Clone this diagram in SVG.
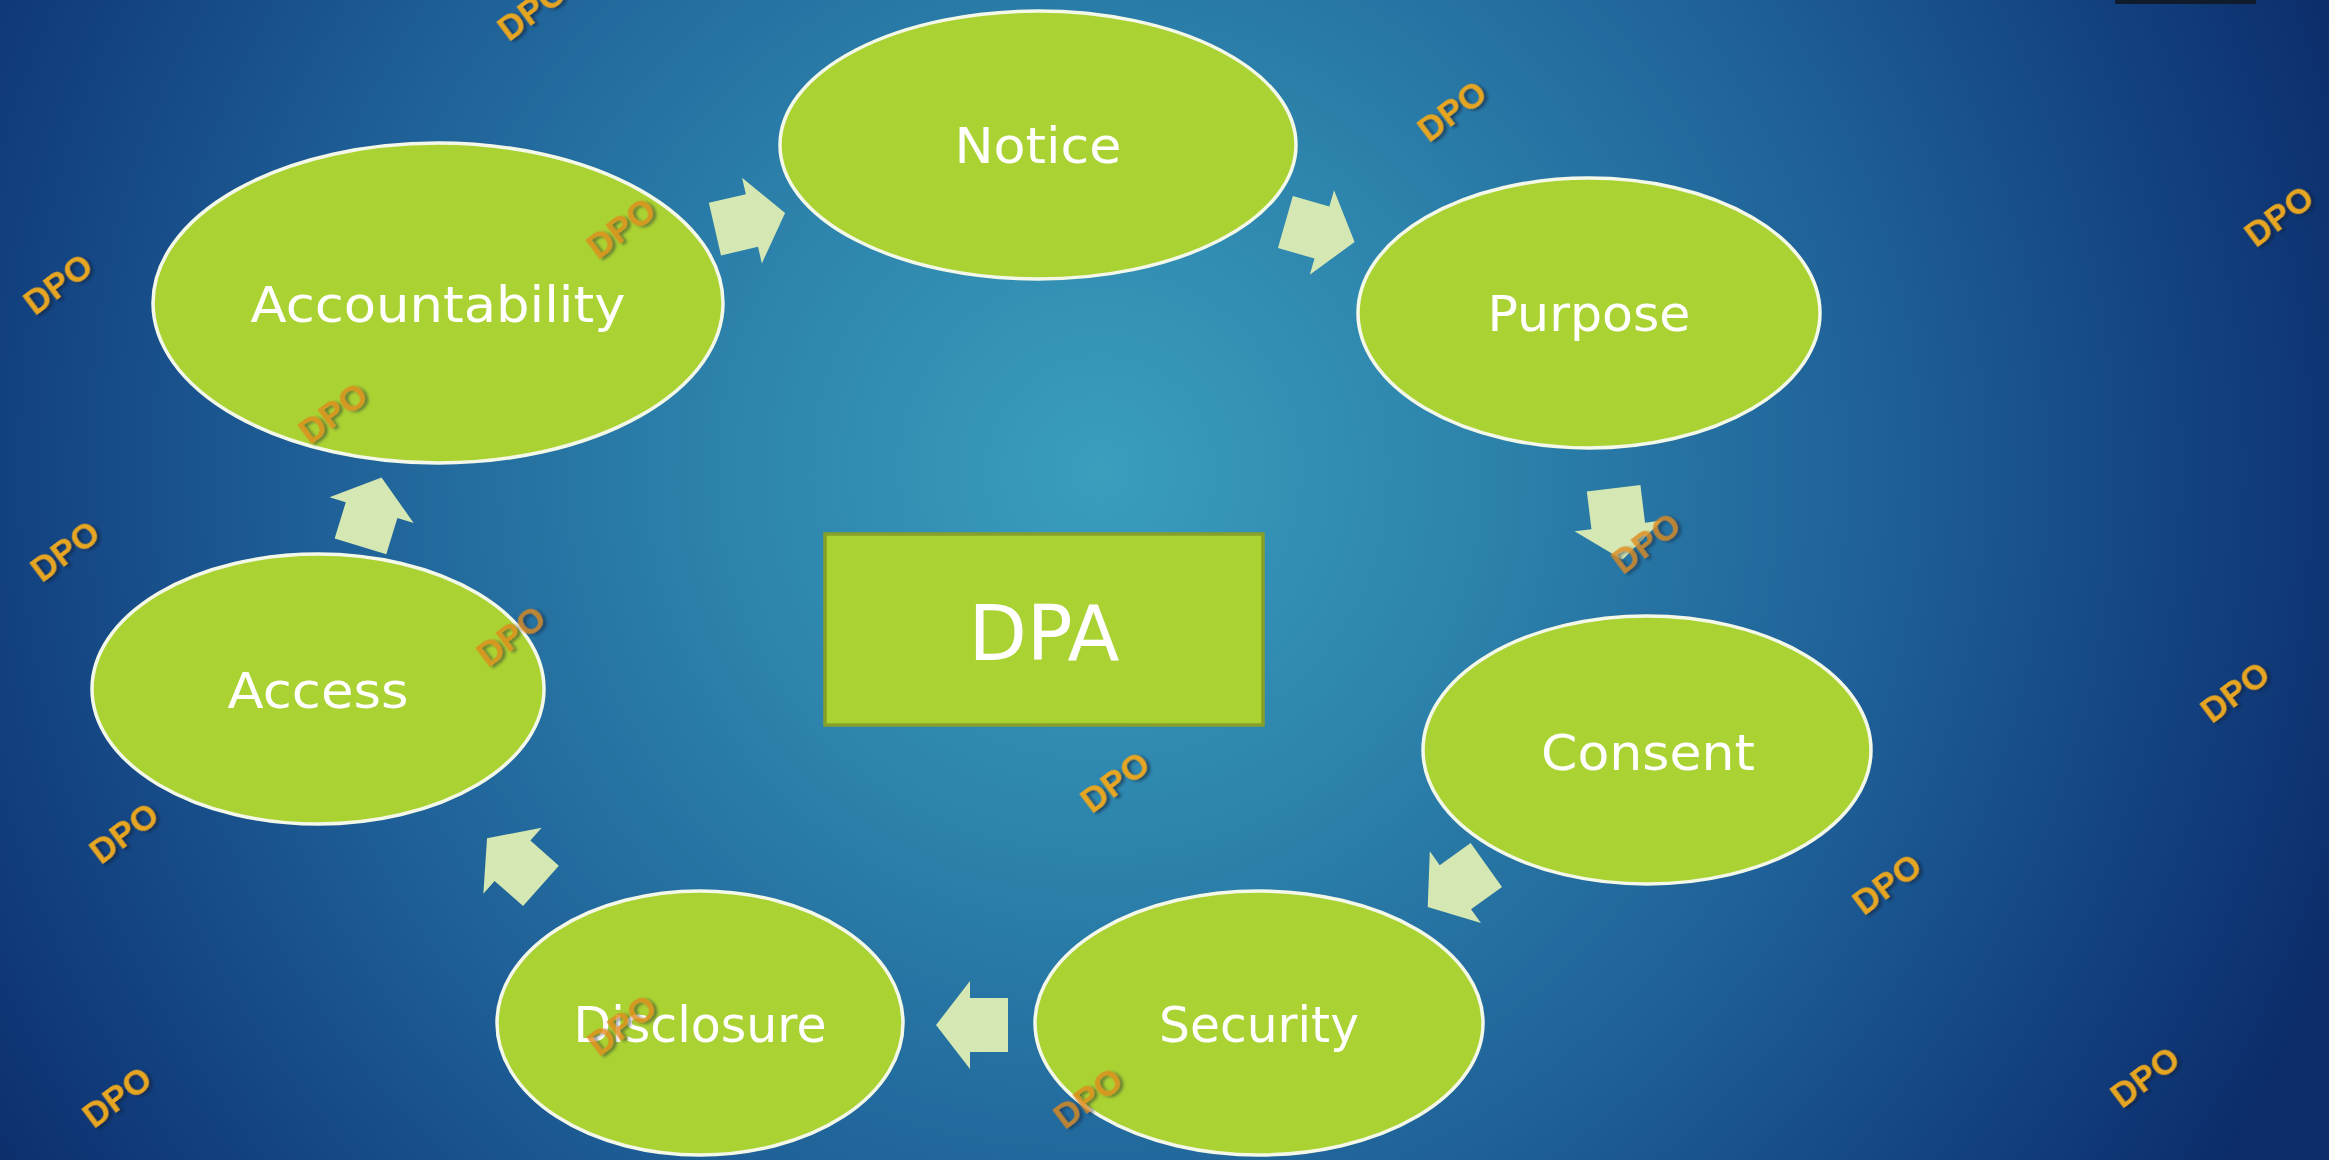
<svg xmlns="http://www.w3.org/2000/svg" xmlns:xlink="http://www.w3.org/1999/xlink" width="2329" height="1160" viewBox="0 0 2329 1160">
<style>
.node ellipse{fill:#abd233;stroke:#f4f8e8;stroke-width:3.5}
.lbl{font-family:"DejaVu Sans","Liberation Sans",sans-serif;font-size:50px;fill:#ffffff;text-anchor:middle}
.arrow{fill:#d5e7b3}
.wm{font-family:"Liberation Sans",Arial,sans-serif;font-weight:bold;font-size:35px;fill:#e6a622;text-anchor:middle;filter:url(#sh)}
.wm.on{fill:#e08a1c;opacity:0.8}
</style>
<defs>
<radialGradient id="bg" gradientUnits="userSpaceOnUse" cx="1100" cy="470" r="1320">
<stop offset="0" stop-color="#3a9ebd"/>
<stop offset="0.3" stop-color="#2c82ab"/>
<stop offset="0.6" stop-color="#1e5f97"/>
<stop offset="0.85" stop-color="#123f7e"/>
<stop offset="1" stop-color="#0c2d6a"/>
</radialGradient>
<filter id="sh" x="-30%" y="-30%" width="160%" height="160%">
<feDropShadow dx="2" dy="3" stdDeviation="1.5" flood-color="#0b1a30" flood-opacity="0.6"/>
</filter>
<polygon id="arr" points="-36,-27 2,-27 2,-44 36,0 2,44 2,27 -36,27"/>
</defs>
<rect x="0" y="0" width="2329" height="1160" fill="url(#bg)"/>
<rect x="2115" y="0" width="141" height="4" fill="#101c2c"/>

<g id="connectors" class="arrow">
<use xlink:href="#arr" href="#arr" transform="translate(750,221) rotate(-13)"/>
<use xlink:href="#arr" href="#arr" transform="translate(1320,232) rotate(16)"/>
<use xlink:href="#arr" href="#arr" transform="translate(1618,524) rotate(83)"/>
<use xlink:href="#arr" href="#arr" transform="translate(1457,886) rotate(144.5)"/>
<use xlink:href="#arr" href="#arr" transform="translate(972,1025) rotate(180)"/>
<use xlink:href="#arr" href="#arr" transform="translate(514,862) rotate(-138.5)"/>
<use xlink:href="#arr" href="#arr" transform="translate(371,512) rotate(-73)"/>
</g>

<g id="node-notice" class="node">
<ellipse cx="1038" cy="145" rx="258" ry="134"/>
<text class="lbl" x="1038" y="163" textLength="167" lengthAdjust="spacingAndGlyphs">Notice</text>
</g>
<g id="node-purpose" class="node">
<ellipse cx="1589" cy="313" rx="231" ry="135"/>
<text class="lbl" x="1589" y="331" textLength="203" lengthAdjust="spacingAndGlyphs">Purpose</text>
</g>
<g id="node-consent" class="node">
<ellipse cx="1647" cy="750" rx="224" ry="134"/>
<text class="lbl" x="1648" y="770" textLength="214" lengthAdjust="spacingAndGlyphs">Consent</text>
</g>
<g id="node-security" class="node">
<ellipse cx="1259" cy="1023" rx="224" ry="132"/>
<text class="lbl" x="1259" y="1042" textLength="200" lengthAdjust="spacingAndGlyphs">Security</text>
</g>
<g id="node-disclosure" class="node">
<ellipse cx="700" cy="1023" rx="203" ry="132"/>
<text class="lbl" x="700" y="1042" textLength="253" lengthAdjust="spacingAndGlyphs">Disclosure</text>
</g>
<g id="node-access" class="node">
<ellipse cx="318" cy="689" rx="226" ry="135"/>
<text class="lbl" x="318" y="708" textLength="181" lengthAdjust="spacingAndGlyphs">Access</text>
</g>
<g id="node-accountability" class="node">
<ellipse cx="438" cy="303" rx="285" ry="160"/>
<text class="lbl" x="438" y="322" textLength="375" lengthAdjust="spacingAndGlyphs">Accountability</text>
</g>
<g id="node-dpa">
<rect x="825" y="534" width="438" height="191" fill="#abd233" stroke="#86a02a" stroke-width="3.5"/>
<text x="1044" y="660" font-family="DejaVu Sans, Liberation Sans, sans-serif" font-size="76" fill="#ffffff" text-anchor="middle" textLength="151">DPA</text>
</g>

<g id="watermarks">
<text class="wm" transform="translate(532,10) rotate(-37)" dy="12">DPO</text>
<text class="wm" transform="translate(1452,111) rotate(-37)" dy="12">DPO</text>
<text class="wm" transform="translate(2279,216) rotate(-37)" dy="12">DPO</text>
<text class="wm" transform="translate(58,284) rotate(-37)" dy="12">DPO</text>
<text class="wm on" transform="translate(621,228) rotate(-37)" dy="12">DPO</text>
<text class="wm on" transform="translate(333,413) rotate(-37)" dy="12">DPO</text>
<text class="wm" transform="translate(65,551) rotate(-37)" dy="12">DPO</text>
<text class="wm on" transform="translate(511,636) rotate(-37)" dy="12">DPO</text>
<text class="wm on" transform="translate(1646,543) rotate(-37)" dy="12">DPO</text>
<text class="wm" transform="translate(1115,782) rotate(-37)" dy="12">DPO</text>
<text class="wm" transform="translate(2235,692) rotate(-37)" dy="12">DPO</text>
<text class="wm" transform="translate(124,833) rotate(-37)" dy="12">DPO</text>
<text class="wm" transform="translate(1887,884) rotate(-37)" dy="12">DPO</text>
<text class="wm on" transform="translate(622,1025) rotate(-37)" dy="12">DPO</text>
<text class="wm" transform="translate(117,1097) rotate(-37)" dy="12">DPO</text>
<text class="wm on" transform="translate(1088,1098) rotate(-37)" dy="12">DPO</text>
<text class="wm" transform="translate(2145,1077) rotate(-37)" dy="12">DPO</text>
</g>
</svg>
